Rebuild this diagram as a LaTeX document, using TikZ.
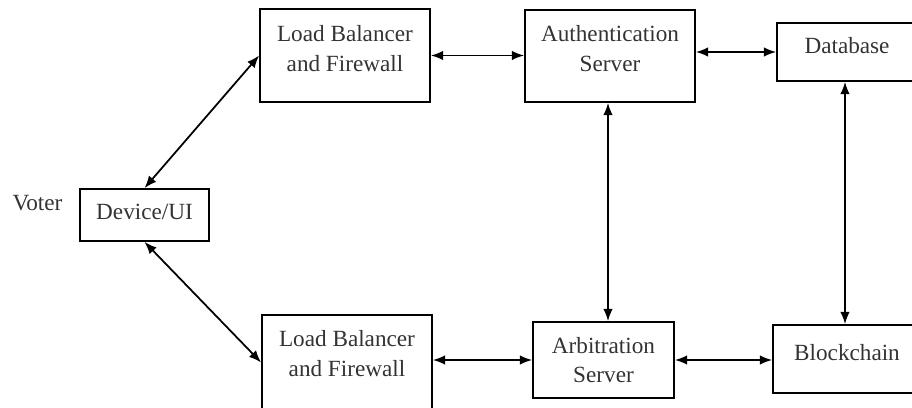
\documentclass[tikz,border=0pt]{standalone}
\usepackage{fontspec}
\setmainfont{Liberation Serif}
\usetikzlibrary{arrows.meta}
\usetikzlibrary{positioning}

% extra depth under the text lifts it in its box
\newcommand{\lift}[1]{\rule[-#1]{0pt}{0pt}}

\begin{document}
\begin{tikzpicture}[x=0.02cm,y=-0.02cm,
    block/.style={draw,line width=1pt,align=center,inner sep=0pt,
      font=\fontsize{13.2}{17}\selectfont,text=black!80},
    link/.style={line width=1pt,{Latex[length=7pt,width=5.5pt]}-{Latex[length=7pt,width=5.5pt]}}]
   \useasboundingbox (0,0) rectangle (912,408);
   \node[block,minimum width=129*0.02cm,minimum height=52*0.02cm] (dev) at (144.5,215) {Device/UI\lift{4pt}};
   \node[font=\fontsize{13.2}{17}\selectfont,text=black!80] (voter) at (37.5,203) {Voter};
   \node[block,minimum width=170*0.02cm,minimum height=93*0.02cm] (lb_1) at (345,55.5) {Load Balancer\\and Firewall\lift{8.5pt}};
   \node[block,minimum width=170*0.02cm,minimum height=95*0.02cm] (lb_2) at (347,362.5) {Load Balancer\\and Firewall\lift{10.5pt}};
   \node[block,minimum width=170*0.02cm,minimum height=92*0.02cm] (auth) at (610,56) {Authentication\\Server\lift{9pt}};
   \node[block,minimum width=141*0.02cm,minimum height=76*0.02cm] (arb) at (603.5,360) {Arbitration\\Server};
   \node[block,minimum width=140*0.02cm,minimum height=58*0.02cm] (db) at (847,52) {Database\lift{8pt}};
   \node[block,minimum width=148*0.02cm,minimum height=68*0.02cm] (bc) at (847,359) {Blockchain\lift{8pt}};
    \path[link]
    (dev.north) edge (lb_1.west)
    (dev.south) edge (lb_2.west)
    (lb_1.east) edge (lb_1.east -| auth.west)
    (auth.east |- db.west) edge (db.west)
    (arb.west -| lb_2.east) edge (arb.west)
    (arb.east) edge (arb.east -| bc.west)
    ([xshift=-2*0.02cm]auth.south) edge ([xshift=-2*0.02cm]auth.south |- arb.north)
    ([xshift=-2*0.02cm]db.south) edge ([xshift=-2*0.02cm]db.south |- bc.north);
\end{tikzpicture}
\end{document}
